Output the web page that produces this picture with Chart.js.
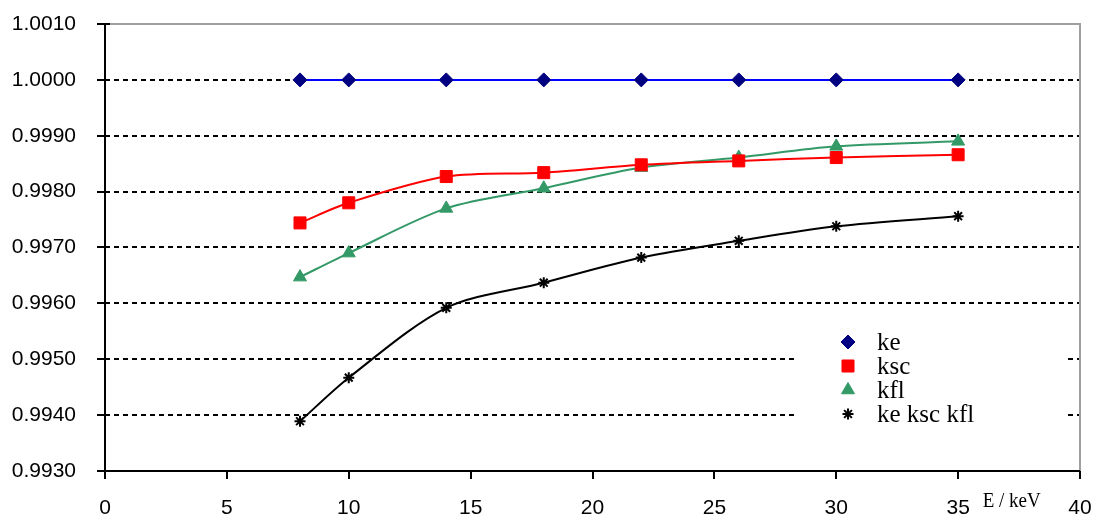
<!DOCTYPE html>
<html>
<head>
<meta charset="utf-8">
<script src="https://cdn.jsdelivr.net/npm/chart.js@4"></script>
<style>
  html, body { margin: 0; padding: 0; background: #fff; }
  #wrap { width: 1096px; height: 520px; }
</style>
</head>
<body>
<div id="wrap"><canvas id="c"></canvas></div>
<script>
const energies = [8, 10, 14, 18, 22, 26, 30, 35];
const ke = [1.0000, 1.0000, 1.0000, 1.0000, 1.0000, 1.0000, 1.0000, 1.0000];
const ksc = [0.99744, 0.99780, 0.99827, 0.99834, 0.99848, 0.99855, 0.99861, 0.99866];
const kfl = [0.99647, 0.99690, 0.99770, 0.99806, 0.99843, 0.99861, 0.99881, 0.99890];
const keKscKfl = [0.99389, 0.99467, 0.99592, 0.99637, 0.99682, 0.99712, 0.99738, 0.99756];
const seriesNames = ['ke', 'ksc', 'kfl', 'ke ksc kfl'];
const xTicks = [0, 5, 10, 15, 20, 25, 30, 35, 40];
const yTicks = [0.9930, 0.9940, 0.9950, 0.9960, 0.9970, 0.9980, 0.9990, 1.0000, 1.0010];

const toPoints = (ys) => energies.map((x, i) => ({ x: x, y: ys[i] }));

const styles = [
    { line: '#0000ff', fill: '#000080', shape: 'rectRot', r: 7, bw: 1 },
    { line: '#ff0000', fill: '#ff0000', shape: 'rect', r: 8.5, bw: 1 },
    { line: '#339966', fill: '#339966', shape: 'triangle', r: 7.5, bw: 1 },
    { line: '#000000', fill: '#000000', shape: 'star', r: 5.5, bw: 2 },
];

const allData = [ke, ksc, kfl, keKscKfl];
const tickFont = '"Liberation Sans", Arial, sans-serif';
const serifFont = '"Liberation Serif", "Times New Roman", serif';

// borders, ticks, legend box and axis title
const decor = {
    id: 'decor',
    afterDraw(chart) {
        const ctx = chart.ctx;
        const a = chart.chartArea;
        const xs = chart.scales.x, ys = chart.scales.y;
        ctx.save();
        ctx.strokeStyle = '#a0a0a0';
        ctx.lineWidth = 2;
        ctx.beginPath();
        ctx.moveTo(a.left, a.top);
        ctx.lineTo(a.right, a.top);
        ctx.lineTo(a.right, a.bottom);
        ctx.stroke();

        ctx.strokeStyle = '#000';
        ctx.lineWidth = 2;
        ctx.beginPath();
        ctx.moveTo(a.left, a.top);
        ctx.lineTo(a.left, a.bottom);
        ctx.lineTo(a.right, a.bottom);
        ctx.stroke();

        ctx.lineWidth = 2;
        ctx.beginPath();
        yTicks.forEach(v => {
            const y = Math.round(ys.getPixelForValue(v));
            ctx.moveTo(a.left - 8, y);
            ctx.lineTo(a.left + 5, y);
        });
        xTicks.forEach(v => {
            const x = Math.round(xs.getPixelForValue(v));
            ctx.moveTo(x, a.bottom);
            ctx.lineTo(x, a.bottom + 8);
        });
        ctx.stroke();

        ctx.fillStyle = '#000';
        ctx.font = '22px ' + serifFont;
        ctx.textAlign = 'center';
        ctx.textBaseline = 'middle';
        ctx.fillText('E / keV', xs.getPixelForValue(37.2), a.bottom + 30, 58);
        ctx.restore();
    },
    afterDatasetsDraw(chart) {
        const ctx = chart.ctx;
        ctx.save();
        ctx.fillStyle = '#fff';
        ctx.fillRect(797, 326, 268, 102);
        ctx.font = '25px ' + serifFont;
        ctx.textBaseline = 'middle';
        ctx.textAlign = 'left';
        const rows = [342, 366, 390, 414];
        seriesNames.forEach((name, i) => {
            const st = styles[i];
            ctx.fillStyle = st.fill;
            ctx.strokeStyle = st.fill;
            ctx.lineWidth = st.bw;
            Chart.helpers.drawPoint(ctx, { pointStyle: st.shape, radius: st.r, rotation: 0, borderWidth: st.bw }, 848, rows[i]);
            ctx.fillStyle = '#000';
            ctx.fillText(name, 877, rows[i] + 1);
        });
        ctx.restore();
    }
};

new Chart(document.getElementById('c'), {
    type: 'line',
    data: {
        datasets: allData.map((ys, i) => ({
            label: seriesNames[i],
            data: toPoints(ys),
            borderColor: styles[i].line,
            backgroundColor: styles[i].fill,
            pointBorderColor: styles[i].fill,
            pointBackgroundColor: styles[i].fill,
            pointStyle: styles[i].shape,
            pointRadius: styles[i].r,
            pointBorderWidth: styles[i].bw,
            borderWidth: 2,
            tension: 0.3,
            fill: false
        }))
    },
    options: {
        responsive: true,
        maintainAspectRatio: false,
        animation: false,
        layout: { padding: { left: 0, right: 16, top: 24, bottom: 0 } },
        plugins: {
            legend: { display: false },
            tooltip: { enabled: false }
        },
        scales: {
            x: {
                type: 'linear',
                min: 0,
                max: 40,
                afterFit: (s) => { s.height = 49; s.paddingLeft = 0; s.paddingRight = 0; },
                afterBuildTicks: (s) => { s.ticks = xTicks.map(v => ({ value: v })); },
                grid: { display: false, drawTicks: false },
                border: { display: false },
                ticks: {
                    color: '#000',
                    padding: 25,
                    maxRotation: 0,
                    font: { family: tickFont, size: 21 },
                    callback: (v) => String(v)
                }
            },
            y: {
                type: 'linear',
                min: 0.9930,
                max: 1.0010,
                afterFit: (s) => { s.width = 105; s.paddingTop = 0; s.paddingBottom = 0; },
                afterBuildTicks: (s) => { s.ticks = yTicks.map(v => ({ value: v })); },
                grid: {
                    drawTicks: false,
                    color: (c) => (c.tick && (c.tick.value > 1.0005 || c.tick.value < 0.99305)) ? 'rgba(0,0,0,0)' : '#000',
                    lineWidth: 2
                },
                border: { display: false, dash: [5, 4] },
                ticks: {
                    color: '#000',
                    padding: 29,
                    font: { family: tickFont, size: 21 },
                    callback: (v) => Number(v).toFixed(4)
                }
            }
        }
    },
    plugins: [decor]
});
</script>
</body>
</html>
